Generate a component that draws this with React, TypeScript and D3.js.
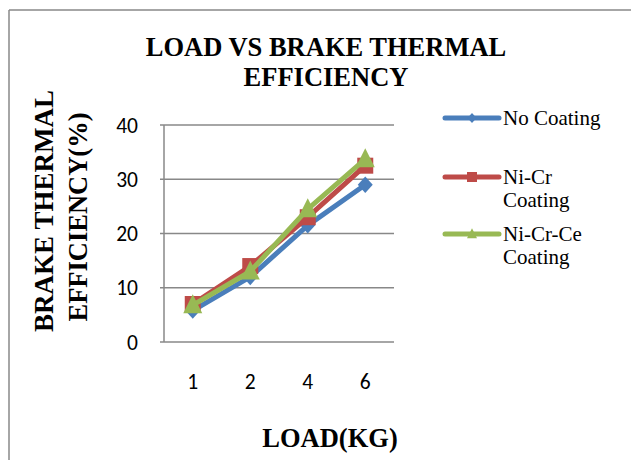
import React from "react";
import * as d3 from "d3";

const categories = ["1", "2", "4", "6"];
const noCoating = [5.8, 12, 21.5, 29];
const niCr = [7, 14, 23, 32.5];
const niCrCe = [6.8, 13, 24.5, 33.7];
const yTicks = [0, 10, 20, 30, 40];

const series = [
  { name: ["No Coating"], values: noCoating, color: "#4a7ebb", marker: "diamond" },
  { name: ["Ni-Cr", "Coating"], values: niCr, color: "#be4b48", marker: "square" },
  { name: ["Ni-Cr-Ce", "Coating"], values: niCrCe, color: "#98b954", marker: "triangle" },
];

const W = 631, H = 460;
const plot = { left: 164, right: 394, top: 125, bottom: 342 };

function markerPath(m: string, s: number) {
  const h = s / 2;
  if (m === "diamond") return `M0,${-h * 1.1}L${h},0L0,${h * 1.1}L${-h},0Z`;
  if (m === "square") return `M${-h},${-h}H${h}V${h}H${-h}Z`;
  return `M0,${-h * 1.15}L${h},${h * 0.85}L${-h},${h * 0.85}Z`;
}

export default function App() {
  const x = d3.scaleBand().domain(categories).range([plot.left, plot.right]);
  const y = d3.scaleLinear().domain([0, 40]).range([plot.bottom, plot.top]);
  const cx = (i: number) => (x(categories[i]) as number) + x.bandwidth() / 2;
  const line = d3.line<number>().x((_, i) => cx(i)).y((v) => y(v));
  const sizes: Record<string, number> = { diamond: 15, square: 16, triangle: 19 };
  const lsizes: Record<string, number> = { diamond: 9, square: 10, triangle: 10 };
  const serif = "'Liberation Serif', 'Times New Roman', serif";
  const sans = "Carlito, Lato, 'Open Sans', sans-serif";
  const legendY = [118, 177, 234];
  return (
    <svg width={W} height={H} style={{ position: "absolute", left: 0, top: 0 }}>
      <rect x={0} y={0} width={W} height={H} fill="#fff" />
      <line x1={9} y1={10} x2={W} y2={10} stroke="#898989" strokeWidth={1.5} />
      <line x1={9} y1={10} x2={9} y2={H} stroke="#898989" strokeWidth={1.5} />
      <text x={326} y={56} textAnchor="middle" fontFamily={serif} fontWeight="bold" fontSize={26.5}>
        LOAD VS BRAKE THERMAL
      </text>
      <text x={326} y={86} textAnchor="middle" fontFamily={serif} fontWeight="bold" fontSize={26.5}>
        EFFICIENCY
      </text>
      {yTicks.map((t) => (
        <g key={t}>
          <line x1={plot.left - 4} x2={plot.right} y1={y(t)} y2={y(t)} stroke="#888" strokeWidth={1.5} />
          <text x={138} y={y(t)} dy="0.35em" textAnchor="end" fontFamily={sans} fontSize={21.5}>
            {t}
          </text>
        </g>
      ))}
      <line x1={plot.left} x2={plot.left} y1={plot.top} y2={plot.bottom} stroke="#888" strokeWidth={1.5} />
      {categories.map((c, i) => (
        <text key={c} x={cx(i)} y={381} dy="0.35em" textAnchor="middle" fontFamily={sans} fontSize={21.5}>
          {c}
        </text>
      ))}
      <text x={330} y={447} textAnchor="middle" fontFamily={serif} fontWeight="bold" fontSize={26.5}>
        LOAD(KG)
      </text>
      <text transform="translate(53,211) rotate(-90)" textAnchor="middle" fontFamily={serif} fontWeight="bold" fontSize={27}>
        BRAKE THERMAL
      </text>
      <text transform="translate(87,217) rotate(-90)" textAnchor="middle" fontFamily={serif} fontWeight="bold" fontSize={26.5}>
        EFFICIENCY(%)
      </text>
      {series.map((s) => (
        <g key={s.name.join(" ")}>
          <path d={line(s.values) as string} fill="none" stroke={s.color} strokeWidth={5} strokeLinejoin="round" />
          {s.values.map((v, i) => (
            <path key={i} d={markerPath(s.marker, sizes[s.marker])} transform={`translate(${cx(i)},${y(v)})`} fill={s.color} />
          ))}
        </g>
      ))}
      {series.map((s, k) => (
        <g key={"l" + k}>
          <line x1={445} x2={499} y1={legendY[k]} y2={legendY[k]} stroke={s.color} strokeWidth={5} strokeLinecap="round" />
          <path d={markerPath(s.marker, lsizes[s.marker])} transform={`translate(472,${legendY[k]})`} fill={s.color} />
          {s.name.map((n, j) => (
            <text key={j} x={503} y={legendY[k] + j * 23} dy="0.35em" fontFamily={serif} fontSize={21}>
              {n}
            </text>
          ))}
        </g>
      ))}
    </svg>
  );
}
